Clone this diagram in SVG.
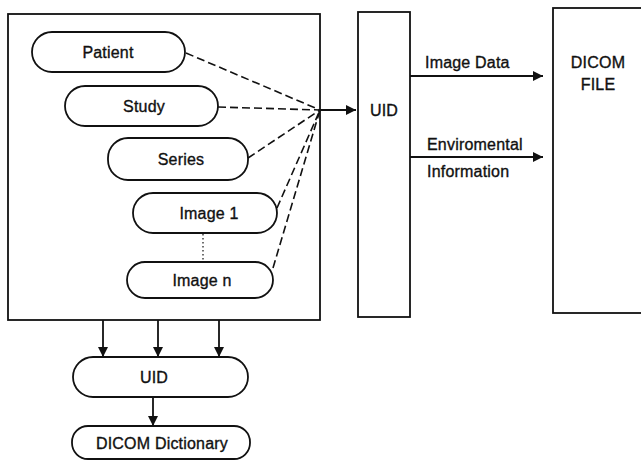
<svg xmlns="http://www.w3.org/2000/svg" width="641" height="461" viewBox="0 0 641 461">
<style>
text{font-family:"Liberation Sans",Arial,sans-serif;font-size:16px;fill:#111;stroke:#111;stroke-width:0.35;letter-spacing:0.2px}
.box{fill:none;stroke:#111;stroke-width:1.8}
.pill{fill:#fff;stroke:#111;stroke-width:1.8}
.dash{fill:none;stroke:#111;stroke-width:1.6;stroke-dasharray:8,4}
.line{fill:none;stroke:#111;stroke-width:1.8}
.dot{fill:none;stroke:#111;stroke-width:1.2;stroke-dasharray:1.5,2.5}
</style>
<defs>
<marker id="ah" viewBox="0 0 10 10" refX="10" refY="5" markerWidth="10" markerHeight="10" markerUnits="userSpaceOnUse" orient="auto">
<path d="M0,0 L10,5 L0,10 Z" fill="#111"/>
</marker>
</defs>
<rect width="641" height="461" fill="#fff"/>
<g id="container"><rect class="box" x="8" y="14" width="312" height="306"/></g>
<g id="patient"><rect class="pill" x="32" y="32" width="153" height="40" rx="20"/><text x="108" y="58" text-anchor="middle">Patient</text></g>
<g id="study"><rect class="pill" x="65" y="86" width="153" height="40" rx="20"/><text x="144" y="112" text-anchor="middle">Study</text></g>
<g id="series"><rect class="pill" x="108" y="138" width="140" height="42" rx="20"/><text x="181" y="165" text-anchor="middle">Series</text></g>
<g id="image1"><rect class="pill" x="133" y="193" width="144" height="40" rx="20"/><text x="209" y="219" text-anchor="middle">Image 1</text></g>
<g id="imagen"><rect class="pill" x="127" y="262" width="146" height="36" rx="18"/><text x="202" y="286" text-anchor="middle">Image n</text></g>
<g id="uid-bar"><rect class="box" x="358" y="12" width="52" height="305"/><text x="384" y="116" text-anchor="middle">UID</text></g>
<g id="dicom-file"><rect class="box" x="553" y="8" width="95" height="305"/><text x="598" y="68" text-anchor="middle">DICOM</text><text x="598" y="90" text-anchor="middle">FILE</text></g>
<g id="uid-pill"><rect class="pill" x="73" y="357" width="175" height="40" rx="20"/><text x="154" y="383" text-anchor="middle">UID</text></g>
<g id="dicom-dictionary"><rect class="pill" x="72" y="426" width="178" height="33" rx="16"/><text x="162" y="449" text-anchor="middle">DICOM Dictionary</text></g>
<g id="connectors">
<path class="dash" d="M186,53 L320,110"/>
<path class="dash" d="M218,107 L320,110"/>
<path class="dash" d="M248,158 L320,110"/>
<path class="dash" d="M277,208 L320,110"/>
<path class="dash" d="M273,268 L320,110"/>
<path class="dot" d="M203,234 L203,262"/>
<path class="line" d="M320,110 L356,110" marker-end="url(#ah)"/>
<path class="line" d="M410,76 L543,76" marker-end="url(#ah)"/>
<path class="line" d="M410,157 L543,157" marker-end="url(#ah)"/>
<path class="line" d="M103,320 L103,357" marker-end="url(#ah)"/>
<path class="line" d="M158,320 L158,357" marker-end="url(#ah)"/>
<path class="line" d="M219,320 L219,357" marker-end="url(#ah)"/>
<path class="line" d="M153,397 L153,426" marker-end="url(#ah)"/>
<text x="425" y="68">Image Data</text>
<text x="427" y="150">Enviromental</text>
<text x="427" y="177">Information</text>
</g>
</svg>
